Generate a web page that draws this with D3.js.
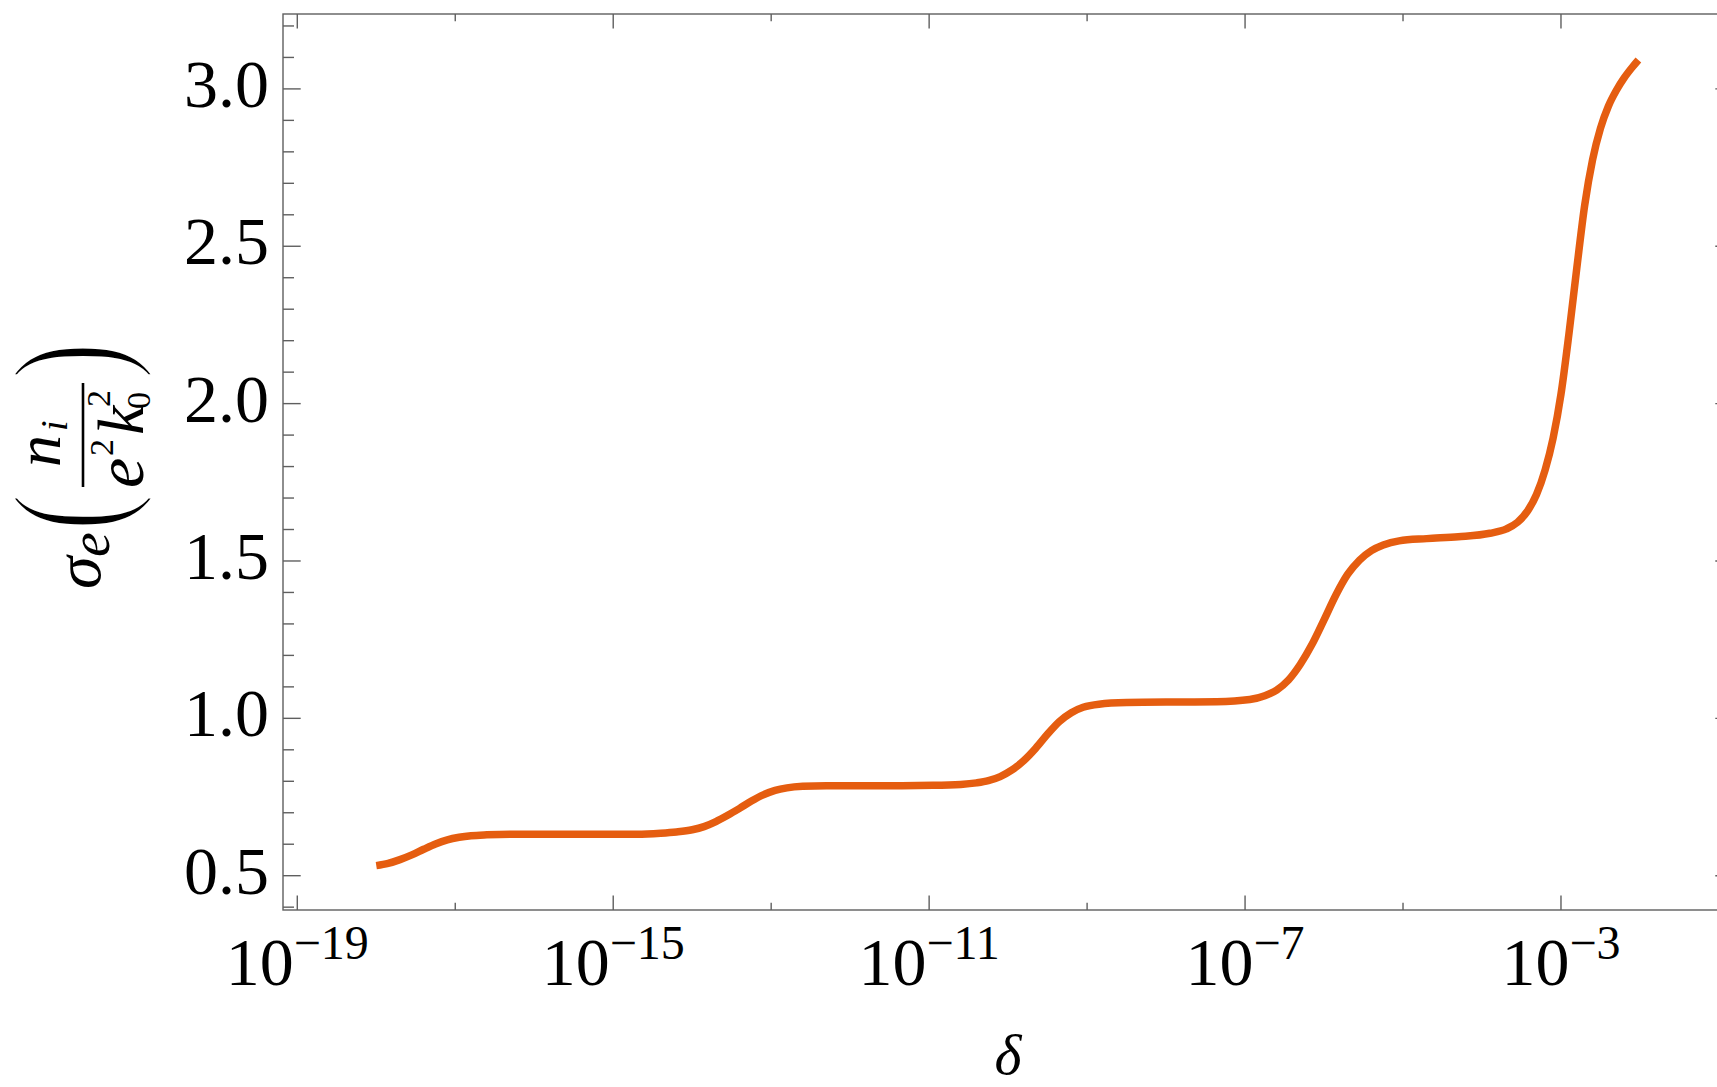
<!DOCTYPE html>
<html>
<head>
<meta charset="utf-8">
<script src="https://cdn.jsdelivr.net/npm/d3@7"></script>
<style>
  html, body { margin: 0; padding: 0; background: #ffffff; overflow: hidden; }
  svg { display: block; }
  .serif { font-family: "Liberation Serif", "Times New Roman", Times, serif; }
</style>
</head>
<body>
<svg id="chart" width="1717" height="1087"></svg>
<script>
// σ_e as a function of δ: sample points given as log10(δ) and the value
const logDelta = [
  -18.00, -17.85, -17.70, -17.55, -17.40, -17.25, -17.10, -16.95, -16.80, -16.60,
  -16.30, -15.50, -14.70, -14.40, -14.20, -14.00, -13.85, -13.70, -13.55, -13.40,
  -13.25, -13.10, -12.95, -12.80, -12.60, -12.30, -11.50, -10.95, -10.60, -10.40,
  -10.25, -10.10, -9.95, -9.80, -9.65, -9.50, -9.35, -9.20, -9.05, -8.85,
  -8.50, -7.80, -7.36, -6.94, -6.75, -6.60, -6.45, -6.30, -6.15, -6.00,
  -5.85, -5.70, -5.55, -5.40, -5.25, -5.05, -4.70, -4.30, -3.90, -3.69,
  -3.55, -3.42, -3.31, -3.20, -3.10, -3.00, -2.90, -2.80, -2.70, -2.60,
  -2.50, -2.40, -2.30, -2.20, -2.10, -2.02
];
const sigmaE = [
  0.532, 0.539, 0.551, 0.566, 0.584, 0.601, 0.614, 0.622, 0.627, 0.630,
  0.632, 0.632, 0.632, 0.635, 0.639, 0.646, 0.656, 0.672, 0.692, 0.714,
  0.737, 0.757, 0.771, 0.779, 0.784, 0.786, 0.786, 0.787, 0.790, 0.795,
  0.802, 0.815, 0.836, 0.866, 0.905, 0.950, 0.990, 1.018, 1.035, 1.045,
  1.050, 1.052, 1.053, 1.060, 1.072, 1.090, 1.122, 1.172, 1.236, 1.313,
  1.392, 1.458, 1.503, 1.533, 1.551, 1.564, 1.571, 1.577, 1.588, 1.602,
  1.623, 1.660, 1.711, 1.790, 1.890, 2.030, 2.220, 2.430, 2.630, 2.775,
  2.875, 2.945, 2.995, 3.035, 3.068, 3.092
];

// Axis ticks
const xMajorExp = [-19, -15, -11, -7, -3];
const xMinorExp = [-17, -13, -9, -5, -1];
const yMajor = [0.5, 1.0, 1.5, 2.0, 2.5, 3.0];
const yMinor = [0.4, 0.6, 0.7, 0.8, 0.9, 1.1, 1.2, 1.3, 1.4, 1.6, 1.7, 1.8, 1.9,
                2.1, 2.2, 2.3, 2.4, 2.6, 2.7, 2.8, 2.9, 3.1, 3.2];
const xTitle = "δ";

const frame = { left: 283, right: 1733, top: 14, bottom: 910 };
const frameColor = "#5f5f5f";
const curveColor = "#e55d10";

const svg = d3.select("#chart");

const x = d3.scaleLog()
  .domain([Math.pow(10, -19.181), Math.pow(10, -0.822)])
  .range([frame.left, frame.right]);
const y = d3.scaleLinear()
  .domain([0.391, 3.238])
  .range([frame.bottom, frame.top]);

const points = logDelta.map((e, i) => ({ delta: Math.pow(10, e), s: sigmaE[i] }));

// ---- frame ----
const gFrame = svg.append("g").attr("stroke", frameColor).attr("stroke-width", 1.4).attr("fill", "none");
gFrame.append("rect")
  .attr("x", frame.left).attr("y", frame.top)
  .attr("width", frame.right - frame.left)
  .attr("height", frame.bottom - frame.top);

// x ticks (bottom and top, pointing inwards)
const xTickLen = { major: 14.5, minor: 7.3 };
[[xMajorExp, xTickLen.major], [xMinorExp, xTickLen.minor]].forEach(([exps, len]) => {
  exps.forEach(e => {
    const px = x(Math.pow(10, e));
    gFrame.append("line").attr("x1", px).attr("x2", px)
      .attr("y1", frame.bottom).attr("y2", frame.bottom - len);
    gFrame.append("line").attr("x1", px).attr("x2", px)
      .attr("y1", frame.top).attr("y2", frame.top + len);
  });
});

// y ticks (left and right, pointing inwards)
const yTickLen = { major: 17.7, minor: 11 };
[[yMajor, yTickLen.major], [yMinor, yTickLen.minor]].forEach(([vals, len]) => {
  vals.forEach(v => {
    const py = y(v);
    gFrame.append("line").attr("y1", py).attr("y2", py)
      .attr("x1", frame.left).attr("x2", frame.left + len);
    gFrame.append("line").attr("y1", py).attr("y2", py)
      .attr("x1", frame.right).attr("x2", frame.right - len);
  });
});

// ---- tick labels ----
const fmtY = d3.format(".1f");
svg.append("g").attr("class", "serif")
  .selectAll("text").data(yMajor).join("text")
  .attr("x", frame.left - 14)
  .attr("y", d => y(d) + 18)
  .attr("text-anchor", "end")
  .attr("font-size", 68)
  .attr("fill", "#000")
  .text(d => fmtY(d));

const xl = svg.append("g").attr("class", "serif")
  .selectAll("text").data(xMajorExp).join("text")
  .attr("x", d => x(Math.pow(10, d)))
  .attr("y", 985)
  .attr("text-anchor", "middle")
  .attr("font-size", 68)
  .attr("fill", "#000");
xl.append("tspan").text("10");
xl.append("tspan").attr("dy", -26).attr("font-size", 48).text(d => "\u2212" + Math.abs(d));

// ---- axis titles ----
svg.append("text").attr("class", "serif")
  .attr("x", (frame.left + frame.right) / 2)
  .attr("y", 1074)
  .attr("text-anchor", "middle")
  .attr("font-size", 58)
  .attr("font-style", "italic")
  .text(xTitle);

// y title: σ_e ( n_i / (e² k₀²) ), set vertically (u runs up the page, v to the right)
const gy = svg.append("g").attr("class", "serif")
  .attr("transform", "translate(83,587) rotate(-90)")
  .attr("fill", "#000");
function glyph(txt, u, v, size, italic) {
  return gy.append("text").attr("x", u).attr("y", v)
    .attr("font-size", size)
    .attr("font-style", italic ? "italic" : "normal")
    .text(txt);
}
glyph("σ", -2, 17, 66, true);
glyph("e", 30, 26, 56, true);

// tall delimiters: the mirror glyph turned half a turn, so the glyph's
// ascent room falls on the inner side of the label; a white outline
// thins the stroke to a hairline-like arc
const parenSize = 156;
[[")", 93.5], ["(", 245]].forEach(([ch, u]) => {
  gy.append("text").attr("font-size", parenSize)
    .attr("stroke", "#fff").attr("stroke-width", 4)
    .attr("transform", `translate(${u},-38) scale(0.72,1) rotate(180)`)
    .text(ch);
});

// numerator
glyph("n", 120, -23, 64, true);
glyph("i", 156, -16, 38, true);
// fraction bar
gy.append("line").attr("x1", 100).attr("x2", 204).attr("y1", 0).attr("y2", 0)
  .attr("stroke", "#000").attr("stroke-width", 2.6);
// denominator
glyph("e", 99, 60, 68, true);
glyph("2", 131, 30, 34, false);
glyph("k", 152, 60, 66, true);
glyph("0", 178, 67, 34, false);
glyph("2", 180, 27, 34, false);

// ---- curve ----
const line = d3.line()
  .x(d => x(d.delta))
  .y(d => y(d.s))
  .curve(d3.curveMonotoneX);
svg.append("path")
  .datum(points)
  .attr("fill", "none")
  .attr("stroke", curveColor)
  .attr("stroke-width", 7.5)
  .attr("stroke-linecap", "butt")
  .attr("stroke-linejoin", "round")
  .attr("d", line);
</script>
</body>
</html>
